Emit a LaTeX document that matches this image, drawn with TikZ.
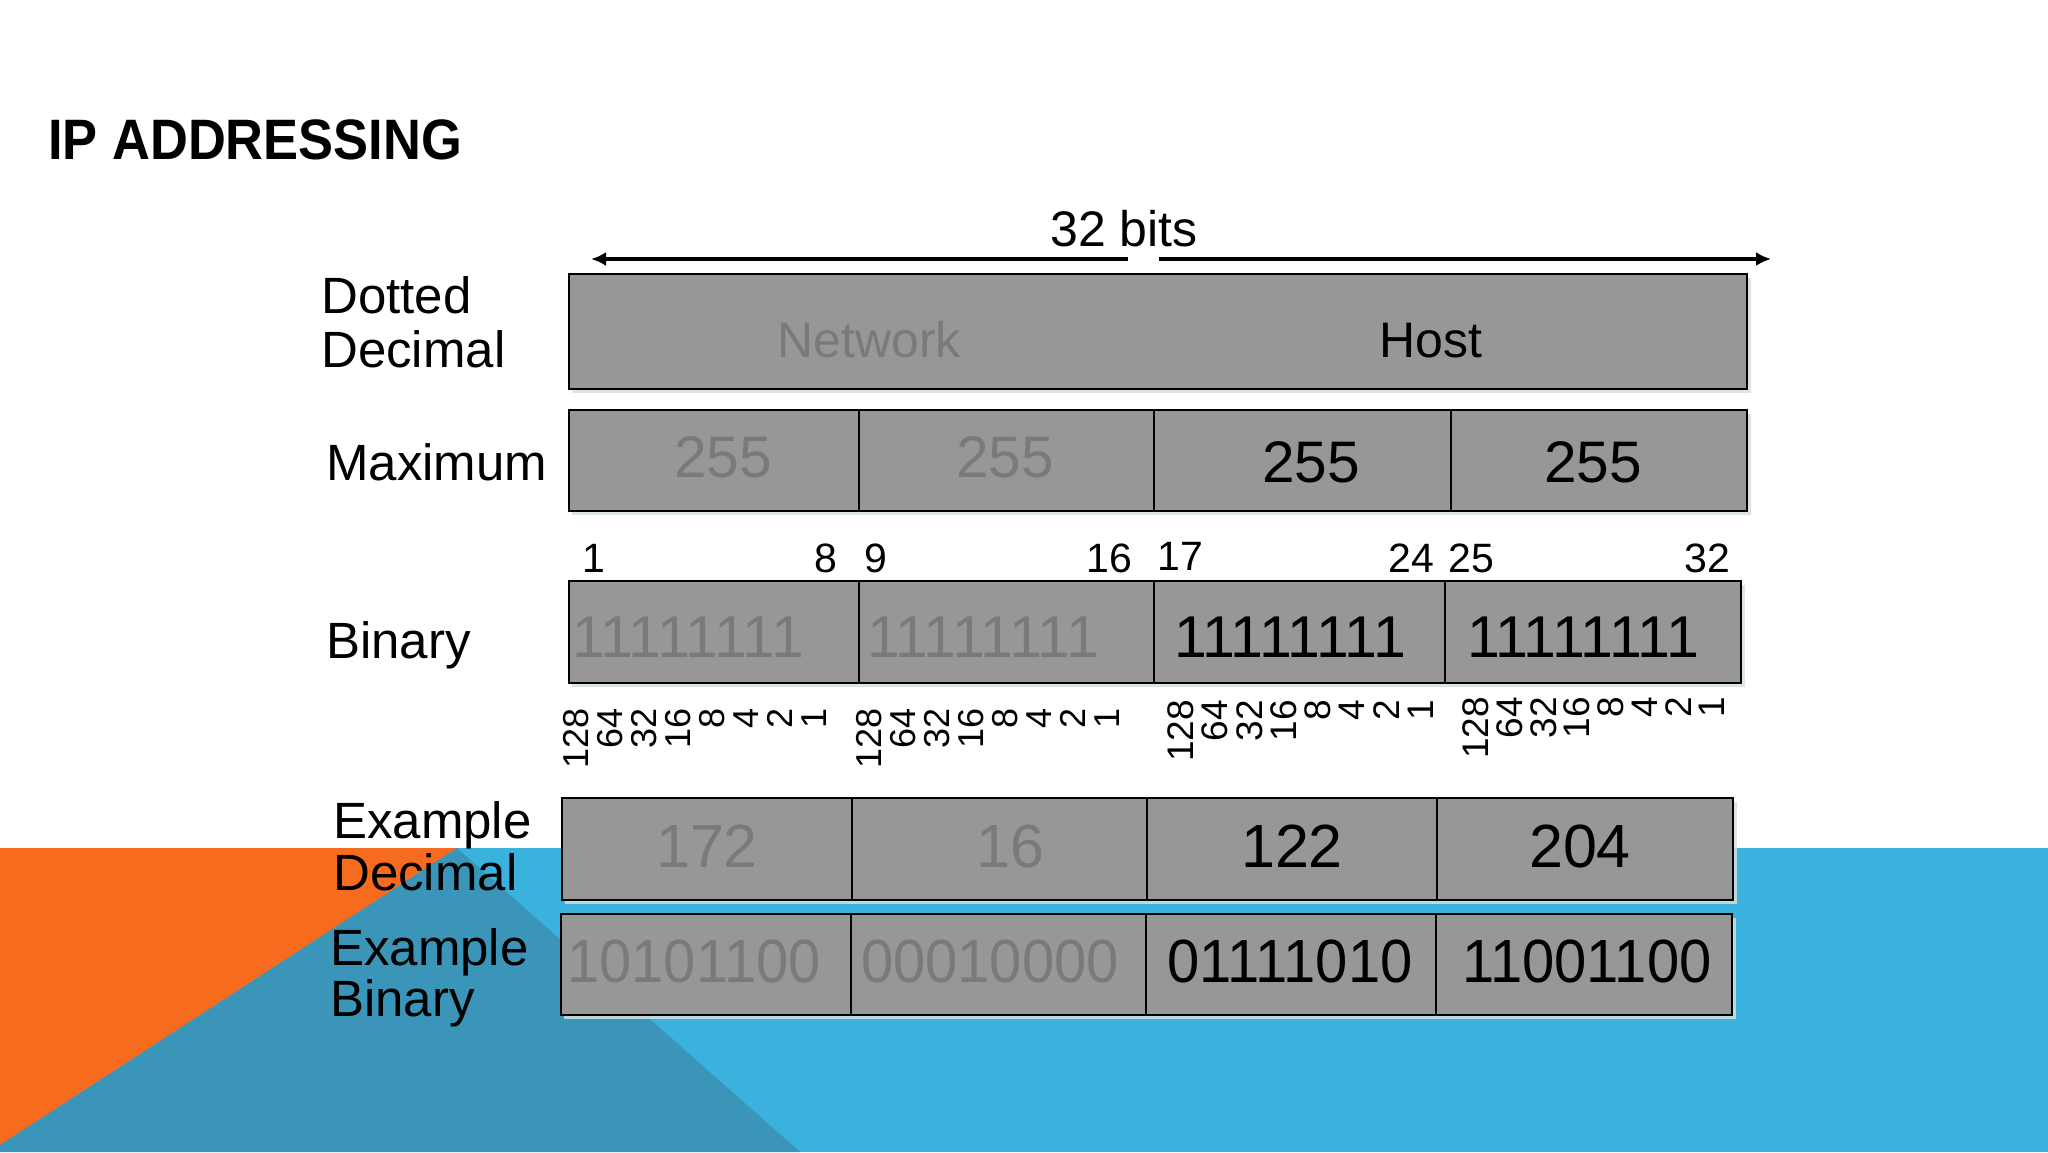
\documentclass[tikz,border=0pt]{standalone}
\usepackage{fontspec}
\setmainfont{Liberation Sans}
\newfontfamily\titlefont[FakeStretch=0.92]{Liberation Sans}
\newfontfamily\exbinfont[FakeStretch=0.95]{Liberation Sans}
\usetikzlibrary{arrows.meta}

\definecolor{cellgray}{RGB}{151,151,151}
\definecolor{fadetext}{RGB}{122,122,122}
\definecolor{slideorange}{RGB}{247,107,30}
\definecolor{slideblue}{RGB}{59,177,222}
\definecolor{slideteal}{RGB}{58,149,184}
\definecolor{shadowgray}{RGB}{214,224,224}

\begin{document}
\begin{tikzpicture}[x=1pt, y=-1pt, >={Latex[length=15pt,width=14pt]},
    cell/.style={draw=black, line width=2.2pt, fill=cellgray, inner sep=0pt, anchor=north west},
    boxshadow/.style={fill=shadowgray, opacity=0.85},
    txt/.style={inner sep=0pt, anchor=base},
    rowlabel/.style={inner sep=0pt, anchor=base west, font=\fontsize{51}{60}\selectfont},
    faint/.style={text=fadetext},
    fieldname/.style={txt, font=\fontsize{50}{60}\selectfont},
    maxnum/.style={txt, font=\fontsize{58.6}{70}\selectfont},
    binnum/.style={txt, font=\fontsize{59}{70}\selectfont},
    exdec/.style={txt, font=\fontsize{61}{72}\selectfont},
    exbin/.style={txt, font=\exbinfont\fontsize{61}{72}\selectfont},
    bitpos/.style={inner sep=0pt, font=\fontsize{41}{48}\selectfont},
    wsmall/.style={inner sep=0pt, rotate=90, anchor=east, font=\fontsize{36}{42}\selectfont},
    wbig/.style={inner sep=0pt, rotate=90, anchor=east, font=\fontsize{37}{44}\selectfont}]

    \useasboundingbox (0,0) rectangle (2048,1152);

    % Background
    \fill[white] (0,0) rectangle (2048,1152);
    \fill[slideblue] (0,848) rectangle (2048,1152);
    \fill[slideorange] (0,848) -- (457,848) -- (0,1145) -- cycle;
    \fill[slideteal] (457,848) -- (0,1145) -- (0,1152) -- (800,1152) -- cycle;

    % Title
    \node[inner sep=0pt, anchor=base west, font=\titlefont\bfseries\fontsize{57}{68}\selectfont] (title) at (48,159) {IP ADDRESSING};

    % 32 bits
    \node[inner sep=0pt, anchor=base west, font=\fontsize{50}{60}\selectfont] (bits) at (1050,246) {32 bits};
    \coordinate (arrL) at (591,259);
    \coordinate (gapL) at (1128,259);
    \coordinate (gapR) at (1159,259);
    \coordinate (arrR) at (1771,259);
    \draw[->, line width=4pt] (gapL) -- (arrL);
    \draw[->, line width=4pt] (gapR) -- (arrR);

    % Row labels
    \node[rowlabel] (dotted) at (321,313) {Dotted};
    \node[rowlabel] (decimal) at (321,367) {Decimal};
    \node[rowlabel] (maximum) at (326,480) {Maximum};
    \node[rowlabel] (binary) at (326,658) {Binary};
    \node[rowlabel] (exd1) at (333,838) {Example};
    \node[rowlabel] (exd2) at (333,890) {Decimal};
    \node[rowlabel] (exb1) at (330,965) {Example};
    \node[rowlabel] (exb2) at (330,1016) {Binary};

    % Shadows
    \fill[boxshadow] (572,278) rectangle (1751,393);
    \fill[boxshadow] (572,414) rectangle (1751,515);
    \fill[boxshadow] (572,585) rectangle (1745,687);
    \fill[boxshadow] (565,802) rectangle (1737,904);
    \fill[boxshadow] (564,918) rectangle (1736,1019);

    % Dotted decimal
    \node[cell, minimum width=1178pt, minimum height=115pt] (dd) at (568,273) {};
    \node[fieldname, faint] (network) at (869,357) {Network};
    \node[fieldname] (host) at (1431,357) {Host};

    % Maximum
    \foreach \xa/\xb [count=\i] in {568/858, 858/1153, 1153/1450, 1450/1746}
        \node[cell, minimum width={(\xb-\xa)*1pt}, minimum height=101pt] (max\i) at (\xa,409) {};
    \node[maxnum, faint] (m1) at (723,477) {255};
    \node[maxnum, faint] (m2) at (1005,477) {255};
    \node[maxnum] (m3) at (1311,482) {255};
    \node[maxnum] (m4) at (1593,482) {255};

    % Bit positions
    \node[bitpos, anchor=base west] (p1) at (582,572) {1};
    \node[bitpos, anchor=base east] (p8) at (837,572) {8};
    \node[bitpos, anchor=base west] (p9) at (864,572) {9};
    \node[bitpos, anchor=base east] (p16) at (1132,572) {16};
    \node[bitpos, anchor=base west] (p17) at (1157,570) {17};
    \node[bitpos, anchor=base east] (p24) at (1434,572) {24};
    \node[bitpos, anchor=base west] (p25) at (1448,572) {25};
    \node[bitpos, anchor=base east] (p32) at (1730,572) {32};

    % Binary
    \foreach \xa/\xb [count=\i] in {568/858, 858/1153, 1153/1444, 1444/1740}
        \node[cell, minimum width={(\xb-\xa)*1pt}, minimum height=102pt] (bin\i) at (\xa,580) {};
    \node[binnum, faint] (b1) at (688,657) {11111111};
    \node[binnum, faint] (b2) at (983,657) {11111111};
    \node[binnum] (b3) at (1290,657) {11111111};
    \node[binnum] (b4) at (1583,657) {11111111};

    % Place values
    \foreach \w [count=\i from 0] in {128,64,32,16,8,4,2,1} {
        \node[wsmall] (wa\i) at ({576+34*\i},708) {\w};
        \node[wsmall] (wb\i) at ({869+34*\i},708) {\w};
        \node[wbig] (wc\i) at ({1181+34.2*\i},700) {\w};
        \node[wbig] (wd\i) at ({1476+33.7*\i},697) {\w};
    }

    % Example decimal
    \foreach \xa/\xb [count=\i] in {561/851, 851/1146, 1146/1436, 1436/1732}
        \node[cell, minimum width={(\xb-\xa)*1pt}, minimum height=102pt] (exdec\i) at (\xa,797) {};
    \node[exdec, faint] (e1) at (707,867) {172};
    \node[exdec, faint] (e2) at (1010,867) {16};
    \node[exdec] (e3) at (1292,867) {122};
    \node[exdec] (e4) at (1580,867) {204};

    % Example binary
    \foreach \xa/\xb [count=\i] in {560/850, 850/1145, 1145/1435, 1435/1731}
        \node[cell, minimum width={(\xb-\xa)*1pt}, minimum height=101pt] (exbin\i) at (\xa,913) {};
    \node[exbin, faint] (x1) at (694,982) {10101100};
    \node[exbin, faint] (x2) at (990,982) {00010000};
    \node[exbin] (x3) at (1290,982) {01111010};
    \node[exbin] (x4) at (1587,982) {11001100};

\end{tikzpicture}
\end{document}
